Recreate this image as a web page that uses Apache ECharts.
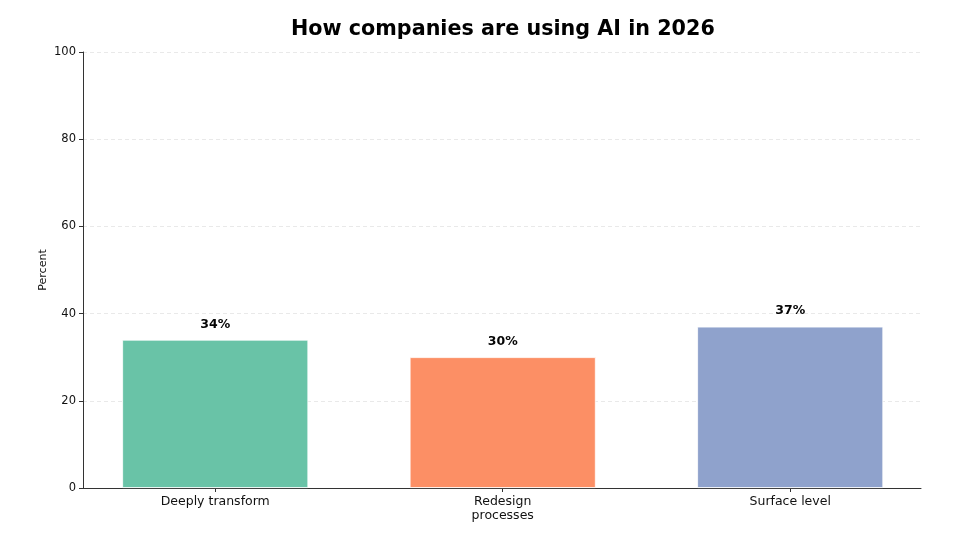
<!DOCTYPE html>
<html>
<head>
<meta charset="utf-8">
<script src="https://cdn.jsdelivr.net/npm/echarts@6/dist/echarts.min.js"></script>
<style>html,body{margin:0;padding:0;background:#fff}#c{width:960px;height:540px}</style>
</head>
<body>
<div id="c"></div>
<script>
const categories = ['Deeply transform', 'Redesign\nprocesses', 'Surface level'];
const values = [34, 30, 37];
const barColors = ['#66c2a5', '#fc8d62', '#8da0cb'];
const yTicks = [0, 20, 40, 60, 80, 100];

const chart = echarts.init(document.getElementById('c'), null, {renderer: 'canvas'});
const font = 'DejaVu Sans, sans-serif';
const catIdx = categories.map((c, i) => i);
chart.setOption({
  animation: false,
  backgroundColor: '#ffffff',
  title: {
    text: 'How companies are using AI in 2026',
    left: 286, top: 14,
    textStyle: {fontFamily: font, fontSize: 20.7, fontWeight: 'bold', color: '#000'}
  },
  grid: {left: 83, right: 39, top: 52, bottom: 52},
  xAxis: {
    type: 'value',
    min: -0.46, max: 2.455,
    axisLine: {show: true, onZero: false, lineStyle: {color: '#333', width: 1}},
    axisTick: {show: true, customValues: catIdx, length: 4, lineStyle: {color: '#333'}},
    axisLabel: {
      customValues: catIdx,
      formatter: v => categories[Math.round(v)] || '',
      fontFamily: font, fontSize: 12.5, color: '#111', margin: 7, lineHeight: 14
    },
    splitLine: {show: false}
  },
  yAxis: {
    type: 'value',
    min: yTicks[0], max: yTicks[yTicks.length - 1], interval: 20,
    name: 'Percent', nameLocation: 'middle', nameGap: 34, nameMoveOverlap: false,
    nameTextStyle: {fontFamily: font, fontSize: 11, color: '#111'},
    axisLine: {show: true, onZero: false, lineStyle: {color: '#333', width: 1}},
    axisTick: {show: true, length: 4, lineStyle: {color: '#333'}},
    axisLabel: {fontFamily: font, fontSize: 11.5, color: '#111', margin: 7},
    splitLine: {show: true, lineStyle: {color: '#e3e3e3', type: [4, 3], width: 0.8}}
  },
  series: [{
    type: 'bar',
    barWidth: 186,
    data: values.map((v, i) => ({
      value: [i, v],
      itemStyle: {color: barColors[i], opacity: 0.98, borderColor: '#ffffff', borderWidth: 0.8}
    })),
    label: {
      show: true, position: 'top', distance: 9,
      formatter: p => p.value[1] + '%',
      fontFamily: font, fontSize: 12.5, fontWeight: 'bold', color: '#000'
    }
  }]
});
</script>
</body>
</html>
